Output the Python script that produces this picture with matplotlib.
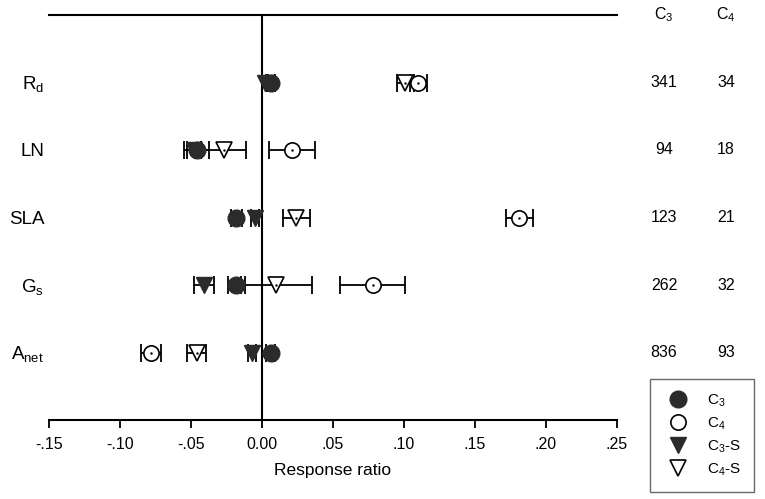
import matplotlib
matplotlib.use("Agg")
import matplotlib.pyplot as plt
import matplotlib.transforms as mtransforms
from matplotlib.lines import Line2D

plt.rcParams['font.family'] = ['Liberation Sans', 'DejaVu Sans']
plt.rcParams['mathtext.fontset'] = 'custom'
plt.rcParams['mathtext.rm'] = 'Liberation Sans'

# categories from bottom to top
categories = [r'A$_{\mathrm{net}}$', r'G$_{\mathrm{s}}$', 'SLA', 'LN', r'R$_{\mathrm{d}}$']
n_c3 = ['836', '262', '123', '94', '341']
n_c4 = ['93', '32', '21', '18', '34']

c3_mean = [0.006, -0.018, -0.018, -0.046, 0.006]
c3_err = [0.003, 0.006, 0.004, 0.009, 0.003]
c4_mean = [-0.078, 0.078, 0.181, 0.021, 0.110]
c4_err = [0.007, 0.023, 0.0095, 0.016, 0.006]
c3s_mean = [-0.007, -0.041, -0.005, -0.048, 0.002]
c3s_err = [0.003, 0.007, 0.003, 0.005, 0.002]
c4s_mean = [-0.046, 0.010, 0.024, -0.027, 0.101]
c4s_err = [0.0065, 0.025, 0.0095, 0.016, 0.006]

xticks = [-0.15, -0.10, -0.05, 0.0, 0.05, 0.10, 0.15, 0.20, 0.25]
xticklabels = ['-.15', '-.10', '-.05', '0.00', '.05', '.10', '.15', '.20', '.25']

dark = '#2b2b2b'
W, H = 765, 499
fig = plt.figure(figsize=(W / 100, H / 100), dpi=100)
ax = fig.add_axes([49 / W, 1 - 420 / H, (617 - 49) / W, (420 - 15) / H])

ypos = list(range(1, len(categories) + 1))

def draw(means, errs, marker, filled, ms):
    ax.errorbar(means, ypos, xerr=errs, fmt='none', ecolor='black',
                elinewidth=1.3, capsize=6.5, capthick=1.3, zorder=2)
    if filled:
        ax.plot(means, ypos, linestyle='none', marker=marker, ms=ms,
                mfc=dark, mec=dark, zorder=3)
    else:
        ax.plot(means, ypos, linestyle='none', marker=marker, ms=ms,
                mfc='white', mec='black', mew=1.2, zorder=3)
        ax.plot(means, ypos, linestyle='none', marker='.', ms=1.5,
                color='black', zorder=4)

draw(c4_mean, c4_err, 'o', False, 11)
draw(c4s_mean, c4s_err, 'v', False, 12)
draw(c3_mean, c3_err, 'o', True, 12)
draw(c3s_mean, c3s_err, 'v', True, 12)

ax.axvline(0, color='black', lw=1.5, zorder=1)
ax.set_xlim(-0.15, 0.25)
ax.set_ylim(0, 6)
ax.set_xticks(xticks)
ax.set_xticklabels(xticklabels, fontsize=11.5)
ax.tick_params(axis='x', direction='out', length=6, width=1.3, pad=6)
ax.set_yticks(ypos)
ax.set_yticklabels(categories, fontsize=13.5)
ax.tick_params(axis='y', length=0, pad=3.5)
for s in ['left', 'right']:
    ax.spines[s].set_visible(False)
for s in ['top', 'bottom']:
    ax.spines[s].set_linewidth(1.5)
ax.set_xlabel('Response ratio', fontsize=12.5, labelpad=8)

trans = mtransforms.blended_transform_factory(fig.transFigure, ax.transData)
for y, a, b in zip(ypos, n_c3, n_c4):
    ax.text(664 / W, y, a, transform=trans, ha='center', va='center', fontsize=11.5, clip_on=False)
    ax.text(726 / W, y, b, transform=trans, ha='center', va='center', fontsize=11.5, clip_on=False)
fig.text(664 / W, 1 - 15 / H, r'C$_3$', ha='center', va='center', fontsize=11.5)
fig.text(726 / W, 1 - 15 / H, r'C$_4$', ha='center', va='center', fontsize=11.5)

handles = [
    Line2D([], [], linestyle='none', marker='o', ms=12, mfc=dark, mec=dark),
    Line2D([], [], linestyle='none', marker='o', ms=11, mfc='white', mec='black', mew=1.2),
    Line2D([], [], linestyle='none', marker='v', ms=12, mfc=dark, mec=dark),
    Line2D([], [], linestyle='none', marker='v', ms=12, mfc='white', mec='black', mew=1.2),
]
labels = [r'C$_3$', r'C$_4$', r'C$_3$-S', r'C$_4$-S']
leg = fig.legend(handles, labels, loc='upper left',
                 bbox_to_anchor=(650 / W, 1 - 379 / H), fontsize=11,
                 frameon=True, fancybox=False, edgecolor='#444444',
                 handletextpad=0.9, labelspacing=0.4, borderpad=0.9,
                 borderaxespad=0, handlelength=1.9)
leg.get_frame().set_linewidth(1.0)

fig.savefig('out.png', dpi=100)
